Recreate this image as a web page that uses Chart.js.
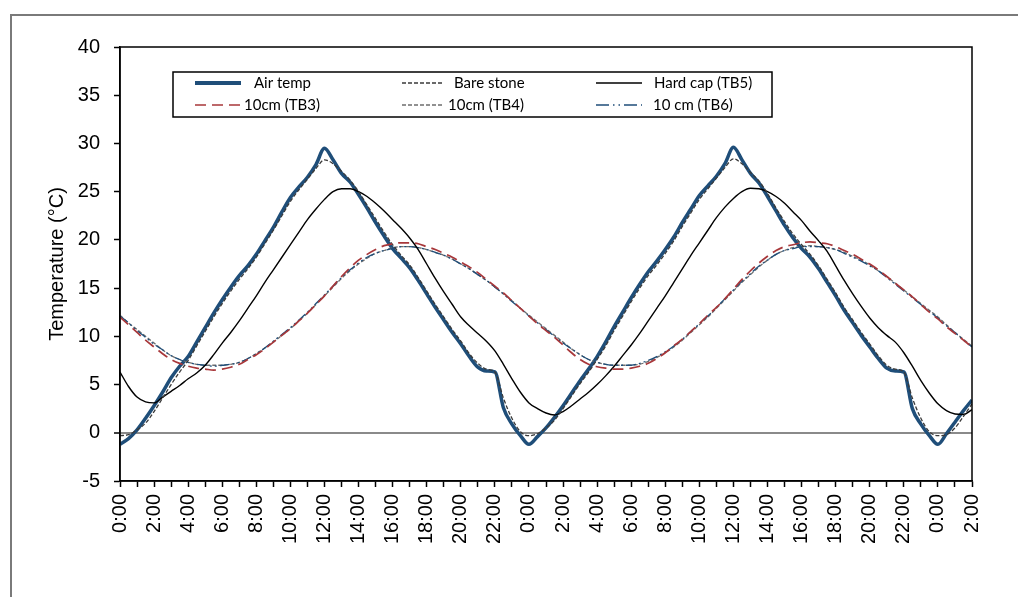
<!DOCTYPE html>
<html>
<head>
<meta charset="utf-8">
<script src="https://cdn.jsdelivr.net/npm/chart.js@4.4.1/dist/chart.umd.min.js"></script>
<style>
  html, body { margin: 0; padding: 0; background: #ffffff; }
  #wrap { width: 1018px; height: 597px; position: relative; }
</style>
</head>
<body>
<div id="wrap"><canvas id="chart" width="1018" height="597"></canvas></div>
<script>
// Sample times in hours from the first midnight (half-hour readings over 50 h)
const hours = [
  0, 0.5, 1, 1.5, 2, 2.5, 3, 3.5, 4, 4.5, 5, 5.5, 6, 6.5, 7, 7.5, 8, 8.5, 9, 9.5,
  10, 10.5, 11, 11.5, 12, 12.5, 13, 13.5, 14, 14.5, 15, 15.5, 16, 16.5, 17, 17.5, 18, 18.5, 19, 19.5,
  20, 20.5, 21, 21.5, 22, 22.5, 23, 23.5, 24, 24.5, 25, 25.5, 26, 26.5, 27, 27.5, 28, 28.5, 29, 29.5,
  30, 30.5, 31, 31.5, 32, 32.5, 33, 33.5, 34, 34.5, 35, 35.5, 36, 36.5, 37, 37.5, 38, 38.5, 39, 39.5,
  40, 40.5, 41, 41.5, 42, 42.5, 43, 43.5, 44, 44.5, 45, 45.5, 46, 46.5, 47, 47.5, 48, 48.5, 49, 49.5, 50
];

// Clock labels for every second hour tick
const tickLabels = [
  '0:00', '2:00', '4:00', '6:00', '8:00', '10:00', '12:00', '14:00', '16:00', '18:00', '20:00', '22:00',
  '0:00', '2:00', '4:00', '6:00', '8:00', '10:00', '12:00', '14:00', '16:00', '18:00', '20:00', '22:00',
  '0:00', '2:00'
];

// Temperatures (°C)
const airTemp = [
  -1.2, -0.6, 0.3, 1.5, 2.8, 4.2, 5.7, 6.9, 7.9, 9.4, 10.9, 12.4, 13.8, 15.1, 16.3, 17.3, 18.5, 19.9, 21.3, 22.9,
  24.4, 25.5, 26.5, 27.8, 29.5, 28.3, 26.9, 26.0, 24.7, 23.3, 21.8, 20.4, 19.1, 18.1, 17.1, 15.8, 14.4, 13.0, 11.7, 10.4,
  9.2, 7.9, 6.8, 6.4, 6.3, 2.6, 0.9, -0.3, -1.2,
  -0.4, 0.5, 1.6, 2.8, 4.1, 5.4, 6.6, 7.9, 9.4, 11.0, 12.5, 14.0, 15.4, 16.7, 17.8, 19.0, 20.3, 21.8, 23.2,
  24.6, 25.6, 26.6, 27.9, 29.6, 28.3, 26.9, 25.9, 24.5, 23.0, 21.5, 20.2, 19.1, 18.2, 17.0, 15.6, 14.2, 12.7, 11.4, 10.1,
  8.9, 7.7, 6.7, 6.4, 6.3, 2.5, 0.9, -0.3, -1.2, -0.1, 1.1, 2.3, 3.4
];

const bareStone = [
  -0.3, -0.2, 0.3, 1.0, 2.2, 3.6, 5.0, 6.3, 7.5, 9.0, 10.5, 12.0, 13.4, 14.7, 15.9, 17.0, 18.2, 19.6, 21.0, 22.5,
  24.0, 25.2, 26.3, 27.4, 28.3, 27.9, 27.1, 26.2, 25.0, 23.6, 22.2, 20.8, 19.5, 18.4, 17.4, 16.1, 14.7, 13.3, 12.0, 10.7,
  9.5, 8.2, 7.2, 6.6, 6.3, 3.6, 1.5, 0.1, -0.3,
  -0.1, 0.5, 1.3, 2.5, 3.8, 5.1, 6.3, 7.6, 9.0, 10.6, 12.1, 13.6, 15.0, 16.3, 17.4, 18.6, 19.9, 21.4, 22.8,
  24.2, 25.3, 26.4, 27.5, 28.4, 27.9, 27.0, 26.1, 24.8, 23.3, 21.9, 20.6, 19.5, 18.5, 17.3, 15.9, 14.5, 13.0, 11.7, 10.4,
  9.2, 8.0, 7.0, 6.6, 6.3, 3.6, 1.5, 0.1, -0.3, -0.2, 0.5, 1.7, 3.0
];

const hardCapTB5 = [
  6.3, 4.8, 3.7, 3.2, 3.1, 3.7, 4.3, 4.9, 5.6, 6.2, 7.0, 8.1, 9.3, 10.4, 11.6, 12.9, 14.2, 15.6, 16.9, 18.2,
  19.5, 20.8, 22.1, 23.2, 24.2, 25.0, 25.3, 25.3, 25.0, 24.5, 23.8, 23.0, 22.1, 21.2, 20.2, 19.0, 17.5, 16.0, 14.6, 13.3,
  12.0, 11.1, 10.3, 9.5, 8.5, 7.1, 5.6, 4.2, 3.1,
  2.5, 2.05, 1.85, 2.2, 2.8, 3.5, 4.2, 5.0, 5.9, 6.9, 8.0, 9.1, 10.3, 11.6, 12.9, 14.2, 15.6, 17.0, 18.4,
  19.7, 21.0, 22.3, 23.4, 24.3, 25.0, 25.35, 25.3, 25.0, 24.5, 23.8, 22.9, 22.0, 20.9, 19.9, 18.8, 17.3, 15.8, 14.4, 13.1,
  11.9, 10.9, 10.1, 9.4, 8.3, 6.9, 5.4, 4.1, 3.0, 2.3, 1.95, 1.9, 2.4
];

const tb3 = [
  12.0, 11.2, 10.4, 9.6, 8.9, 8.2, 7.6, 7.2, 6.9, 6.7, 6.6, 6.5, 6.6, 6.8, 7.1, 7.6, 8.1, 8.7, 9.4, 10.1,
  10.8, 11.6, 12.4, 13.3, 14.2, 15.2, 16.2, 17.1, 17.9, 18.5, 19.0, 19.4, 19.6, 19.7, 19.7, 19.6, 19.3, 19.0, 18.6, 18.2,
  17.7, 17.2, 16.6, 15.9, 15.2, 14.5, 13.7, 12.9, 12.1,
  11.3, 10.6, 9.9, 9.1, 8.3, 7.6, 7.1, 6.85, 6.7, 6.6, 6.6, 6.7, 6.9, 7.2, 7.7, 8.3, 9.0, 9.7, 10.5,
  11.3, 12.2, 13.0, 13.9, 14.9, 15.9, 16.8, 17.6, 18.3, 18.9, 19.3, 19.5, 19.7, 19.8, 19.7, 19.6, 19.3, 18.9, 18.5, 18.0,
  17.5, 16.9, 16.2, 15.5, 14.8, 14.1, 13.3, 12.5, 11.8, 11.0, 10.3, 9.6, 8.9
];

const tb4 = [
  12.2, 11.4, 10.7, 10.0, 9.3, 8.6, 8.0, 7.6, 7.3, 7.1, 7.0, 7.0, 7.0, 7.1, 7.3, 7.7, 8.2, 8.8, 9.4, 10.1,
  10.8, 11.6, 12.4, 13.3, 14.2, 15.1, 16.0, 16.8, 17.5, 18.1, 18.6, 18.9, 19.2, 19.3, 19.3, 19.2, 19.0, 18.7, 18.4, 18.0,
  17.5, 17.0, 16.4, 15.8, 15.1, 14.4, 13.7, 12.9, 12.2,
  11.5, 10.8, 10.1, 9.4, 8.7, 8.1, 7.6, 7.3, 7.1, 7.0, 7.0, 7.0, 7.1, 7.4, 7.8, 8.3, 8.9, 9.6, 10.4,
  11.2, 12.0, 12.9, 13.8, 14.7, 15.6, 16.4, 17.2, 17.9, 18.5, 18.9, 19.2, 19.3, 19.4, 19.3, 19.2, 19.0, 18.7, 18.3, 17.9,
  17.4, 16.8, 16.2, 15.5, 14.8, 14.1, 13.4, 12.7, 12.0, 11.2, 10.4, 9.7, 9.0
];

const tb6 = [
  12.1, 11.4, 10.6, 9.9, 9.2, 8.6, 8.0, 7.6, 7.3, 7.1, 7.0, 6.9, 7.0, 7.1, 7.3, 7.7, 8.2, 8.8, 9.5, 10.2,
  10.9, 11.7, 12.5, 13.4, 14.3, 15.2, 16.1, 16.9, 17.6, 18.2, 18.6, 18.9, 19.1, 19.3, 19.3, 19.2, 19.0, 18.7, 18.4, 18.0,
  17.5, 17.0, 16.4, 15.8, 15.1, 14.4, 13.6, 12.9, 12.1,
  11.4, 10.7, 10.0, 9.3, 8.7, 8.1, 7.6, 7.3, 7.1, 7.0, 7.0, 7.0, 7.2, 7.5, 7.9, 8.4, 9.0, 9.7, 10.5,
  11.3, 12.1, 13.0, 13.9, 14.8, 15.7, 16.5, 17.3, 17.9, 18.5, 18.9, 19.1, 19.3, 19.3, 19.3, 19.2, 19.0, 18.6, 18.2, 17.8,
  17.3, 16.8, 16.1, 15.4, 14.7, 14.0, 13.3, 12.6, 11.9, 11.1, 10.4, 9.6, 8.9
];

const seriesNames = ['Air temp', 'Bare stone', 'Hard cap (TB5)', '10cm (TB3)', '10cm (TB4)', '10 cm (TB6)'];

const toPoints = (vals) => vals.map((v, i) => ({ x: hours[i], y: v }));

const AXIS_FONT = "'Liberation Sans', Arial, sans-serif";

function lineSet(label, vals, color, width, dash, order) {
  return {
    label,
    data: toPoints(vals),
    borderColor: color,
    backgroundColor: color,
    borderWidth: width,
    borderDash: dash,
    pointRadius: 0,
    fill: false,
    cubicInterpolationMode: 'monotone',
    order
  };
}

// Outer frame around the figure
const figureFrame = {
  id: 'figureFrame',
  beforeDraw(chart) {
    const ctx = chart.ctx;
    ctx.save();
    ctx.fillStyle = '#ffffff';
    ctx.fillRect(0, 0, chart.width, chart.height);
    ctx.strokeStyle = '#7a7a7a';
    ctx.lineWidth = 2;
    ctx.strokeRect(11, 15, chart.width + 20, chart.height + 20);
    ctx.restore();
  }
};

// Box around the plotting area
const plotFrame = {
  id: 'plotFrame',
  afterDatasetsDraw(chart) {
    const { ctx, chartArea: a } = chart;
    ctx.save();
    ctx.strokeStyle = '#000000';
    ctx.lineWidth = 1.5;
    ctx.strokeRect(a.left, a.top, a.right - a.left, a.bottom - a.top);
    ctx.restore();
  }
};

// Boxed three-column legend inside the plot
const legendSlots = [
  { ds: 0, x1: 195, x2: 241, tx: 254, y: 83 },
  { ds: 1, x1: 402, x2: 442, tx: 454, y: 83 },
  { ds: 2, x1: 596, x2: 642, tx: 654, y: 83 },
  { ds: 3, x1: 195, x2: 241, tx: 244, y: 105 },
  { ds: 4, x1: 402, x2: 442, tx: 448, y: 105 },
  { ds: 5, x1: 596, x2: 642, tx: 653, y: 105 }
];

const boxedLegend = {
  id: 'boxedLegend',
  afterDraw(chart) {
    const ctx = chart.ctx;
    ctx.save();
    ctx.fillStyle = '#ffffff';
    ctx.fillRect(173, 72, 599, 45);
    ctx.strokeStyle = '#000000';
    ctx.lineWidth = 1.5;
    ctx.strokeRect(173, 72, 599, 45);
    legendSlots.forEach(s => {
      const d = chart.data.datasets[s.ds];
      ctx.strokeStyle = d.borderColor;
      ctx.lineWidth = s.ds === 0 ? 4 : d.borderWidth;
      ctx.setLineDash(s.ds === 5 ? [13, 4, 1.5, 4, 1.5, 4] : (d.borderDash || []));
      ctx.beginPath();
      ctx.moveTo(s.x1, s.y);
      ctx.lineTo(s.x2, s.y);
      ctx.stroke();
      ctx.setLineDash([]);
      ctx.fillStyle = '#000000';
      ctx.font = "15px Lato, 'Open Sans', sans-serif";
      ctx.textBaseline = 'middle';
      ctx.textAlign = 'left';
      ctx.fillText(d.label, s.tx, s.y);
    });
    ctx.restore();
  }
};

new Chart(document.getElementById('chart'), {
  type: 'line',
  data: {
    datasets: [
      lineSet(seriesNames[0], airTemp, '#1F4E79', 3.5, [], 6),
      lineSet(seriesNames[1], bareStone, '#3a3a3a', 1.3, [4, 2], 1),
      lineSet(seriesNames[2], hardCapTB5, '#000000', 1.4, [], 2),
      lineSet(seriesNames[3], tb3, '#A8373A', 1.7, [11, 6], 0),
      lineSet(seriesNames[4], tb4, '#6e6e6e', 1.3, [4, 2], 4),
      lineSet(seriesNames[5], tb6, '#1F4E79', 1.3, [10, 3, 2, 3, 2, 3], 3)
    ]
  },
  options: {
    responsive: false,
    animation: false,
    devicePixelRatio: 1,
    layout: { padding: { top: 47, right: 46, left: 0, bottom: 0 } },
    plugins: {
      legend: { display: false },
      tooltip: { enabled: false },
      title: { display: false }
    },
    scales: {
      x: {
        type: 'linear',
        min: 0,
        max: 50,
        offset: false,
        afterFit(s) { s.height = 116; },
        border: { color: '#000000', width: 1.5 },
        grid: {
          drawOnChartArea: false,
          color: '#000000',
          tickColor: '#000000',
          tickLength: 6,
          tickWidth: 1.5
        },
        ticks: {
          stepSize: 1,
          autoSkip: false,
          minRotation: 90,
          maxRotation: 90,
          padding: 7,
          color: '#000000',
          font: { family: AXIS_FONT, size: 20 },
          callback: (v) => (v % 2 === 0 ? tickLabels[v / 2] : '')
        }
      },
      y: {
        type: 'linear',
        min: -5,
        max: 40,
        afterFit(s) { s.width = 120; },
        border: { color: '#000000', width: 1.5 },
        grid: {
          drawOnChartArea: true,
          color: (c) => (c.tick && c.tick.value === 0 ? '#8a8a8a' : 'rgba(0,0,0,0)'),
          lineWidth: (c) => (c.tick && c.tick.value === 0 ? 2 : 1),
          tickColor: '#000000',
          tickLength: 6,
          tickWidth: 1.5
        },
        ticks: {
          stepSize: 5,
          padding: 14,
          color: '#000000',
          font: { family: AXIS_FONT, size: 20 }
        },
        title: {
          display: true,
          text: 'Temperature (°C)',
          color: '#000000',
          font: { family: AXIS_FONT, size: 20 },
          padding: { top: 45, bottom: 0 }
        }
      }
    }
  },
  plugins: [figureFrame, plotFrame, boxedLegend]
});
</script>
</body>
</html>
